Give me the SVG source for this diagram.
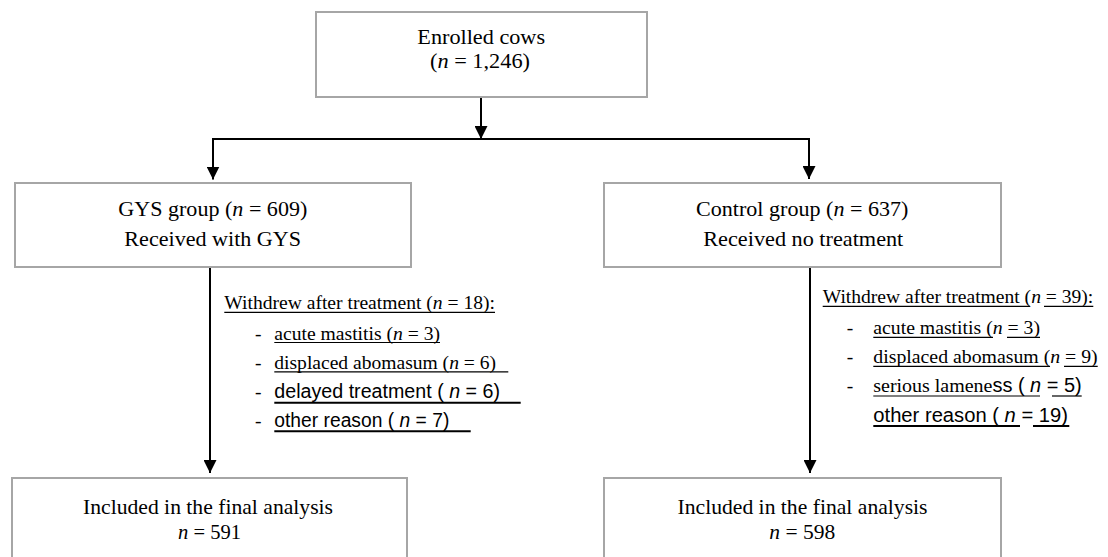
<svg xmlns="http://www.w3.org/2000/svg" width="1108" height="557" viewBox="0 0 1108 557">
<style>
.box{fill:#fff;stroke:#a6a6a6;stroke-width:2}
.t{font-family:"Liberation Serif","Times New Roman",serif;font-size:22px;fill:#000}
.tt{font-size:21px}
.s{font-family:"Liberation Serif","Times New Roman",serif;font-size:19.5px;fill:#000}
.a{font-family:"Liberation Sans",Arial,sans-serif;font-size:19.5px;fill:#000}
.c{text-anchor:middle}
.i{font-style:italic}
.con{stroke:#000;stroke-width:2;fill:none}
.ul{stroke:#000;stroke-width:1.2}
.ulb{stroke:#000;stroke-width:2}
</style>
<defs>
<marker id="ah" markerWidth="13" markerHeight="13" refX="13" refY="6.5" orient="auto" markerUnits="userSpaceOnUse">
<path d="M0,0 L13,6.5 L0,13 Z" fill="#000"/>
</marker>
</defs>
<g id="connectors">
<line class="con" x1="481" y1="97" x2="481" y2="139" marker-end="url(#ah)"/>
<polyline class="con" points="213,179 213,139 809,139 809,178"/>
<line class="con" x1="213" y1="139" x2="213" y2="179.5" marker-end="url(#ah)"/>
<line class="con" x1="809" y1="139" x2="809" y2="179" marker-end="url(#ah)"/>
<line class="con" x1="210" y1="267" x2="210" y2="473" marker-end="url(#ah)"/>
<line class="con" x1="810" y1="267" x2="810" y2="473" marker-end="url(#ah)"/>
</g>
<g id="enrolled">
<rect class="box" x="316" y="12" width="331" height="85"/>
<text class="t tt c" x="481.2" y="43.5" textLength="127.7" lengthAdjust="spacingAndGlyphs">Enrolled cows</text>
<text class="t tt c" x="480" y="67.8" textLength="100" lengthAdjust="spacingAndGlyphs">(<tspan class="i">n</tspan> = 1,246)</text>
</g>
<g id="gys">
<rect class="box" x="15" y="183" width="396" height="84"/>
<text class="t c" x="212.8" y="215.5" textLength="189" lengthAdjust="spacingAndGlyphs">GYS group (<tspan class="i">n</tspan> = 609)</text>
<text class="t c" x="212.7" y="245.5" textLength="176.7" lengthAdjust="spacingAndGlyphs">Received with GYS</text>
</g>
<g id="control">
<rect class="box" x="604" y="183" width="397" height="84"/>
<text class="t c" x="802.2" y="216" textLength="212.3" lengthAdjust="spacingAndGlyphs">Control group (<tspan class="i">n</tspan> = 637)</text>
<text class="t c" x="803.3" y="246" textLength="200" lengthAdjust="spacingAndGlyphs">Received no treatment</text>
</g>
<g id="gys-withdrawn">
<text class="s" x="224.3" y="309.3" textLength="270.7" lengthAdjust="spacingAndGlyphs">Withdrew after treatment (<tspan class="i">n</tspan> = 18):</text>
<line class="ul" x1="224.3" y1="312.3" x2="495" y2="312.3"/>
<text class="s" x="255" y="340">-</text>
<text class="s" x="274.3" y="340" textLength="165.7" lengthAdjust="spacingAndGlyphs">acute mastitis (<tspan class="i">n</tspan> = 3)</text>
<line class="ul" x1="274.3" y1="342.5" x2="440" y2="342.5"/>
<text class="s" x="255" y="369.3">-</text>
<text class="s" x="274.3" y="369.3" textLength="221.7" lengthAdjust="spacingAndGlyphs">displaced abomasum (<tspan class="i">n</tspan> = 6)</text>
<line class="ul" x1="274.3" y1="371.8" x2="508.3" y2="371.8"/>
<text class="s" x="255" y="398.3">-</text>
<text class="a" x="274.3" y="398.3" textLength="225.7" lengthAdjust="spacingAndGlyphs">delayed treatment ( <tspan class="i">n</tspan> = 6)</text>
<line class="ulb" x1="274.3" y1="402.7" x2="520.7" y2="402.7"/>
<text class="s" x="255" y="426.7">-</text>
<text class="a" x="274.3" y="426.7" textLength="175" lengthAdjust="spacingAndGlyphs">other reason ( <tspan class="i">n</tspan> = 7)</text>
<line class="ulb" x1="274.3" y1="431.2" x2="470.7" y2="431.2"/>
</g>
<g id="control-withdrawn">
<text class="s" x="822.7" y="303.3" textLength="270.6" lengthAdjust="spacingAndGlyphs">Withdrew after treatment (<tspan class="i">n</tspan> = 39):</text>
<line class="ul" x1="822.7" y1="306.3" x2="1030" y2="306.3"/>
<line class="ul" x1="1044" y1="306.3" x2="1093.3" y2="306.3"/>
<text class="s" x="846.7" y="334.3">-</text>
<text class="s" x="873.3" y="334.3" textLength="166.7" lengthAdjust="spacingAndGlyphs">acute mastitis (<tspan class="i">n</tspan> = 3)</text>
<line class="ul" x1="873.3" y1="337.3" x2="993" y2="337.3"/>
<line class="ul" x1="1007" y1="337.3" x2="1040" y2="337.3"/>
<text class="s" x="846.7" y="363.3">-</text>
<text class="s" x="873.3" y="363.3" textLength="224.4" lengthAdjust="spacingAndGlyphs">displaced abomasum (<tspan class="i">n</tspan> = 9)</text>
<line class="ul" x1="873.3" y1="366.3" x2="1050" y2="366.3"/>
<line class="ul" x1="1064" y1="366.3" x2="1097.7" y2="366.3"/>
<text class="s" x="846.7" y="392.3">-</text>
<text x="873.3" y="392.3" textLength="208.4" lengthAdjust="spacingAndGlyphs"><tspan class="s">serious lamene</tspan><tspan class="a">ss ( <tspan class="i">n</tspan> = 5)</tspan></text>
<line class="ul" x1="873.3" y1="396" x2="1040" y2="396"/>
<line class="ul" x1="1052" y1="396" x2="1081.7" y2="396"/>
<text class="a" x="873.3" y="421.7" textLength="194.7" lengthAdjust="spacingAndGlyphs">other reason ( <tspan class="i">n</tspan> = 19)</text>
<line class="ulb" x1="873.3" y1="426" x2="1020" y2="426"/>
<line class="ulb" x1="1033" y1="426" x2="1069.3" y2="426"/>
</g>
<g id="gys-final">
<rect class="box" x="12" y="478" width="395" height="100"/>
<text class="t c" x="208" y="514" textLength="250" lengthAdjust="spacingAndGlyphs">Included in the final analysis</text>
<text class="t c" x="209.5" y="539" textLength="63" lengthAdjust="spacingAndGlyphs"><tspan class="i">n</tspan> = 591</text>
</g>
<g id="control-final">
<rect class="box" x="604" y="478" width="397" height="100"/>
<text class="t c" x="802.5" y="514" textLength="250" lengthAdjust="spacingAndGlyphs">Included in the final analysis</text>
<text class="t c" x="802.3" y="539" textLength="66" lengthAdjust="spacingAndGlyphs"><tspan class="i">n</tspan> = 598</text>
</g>
</svg>
